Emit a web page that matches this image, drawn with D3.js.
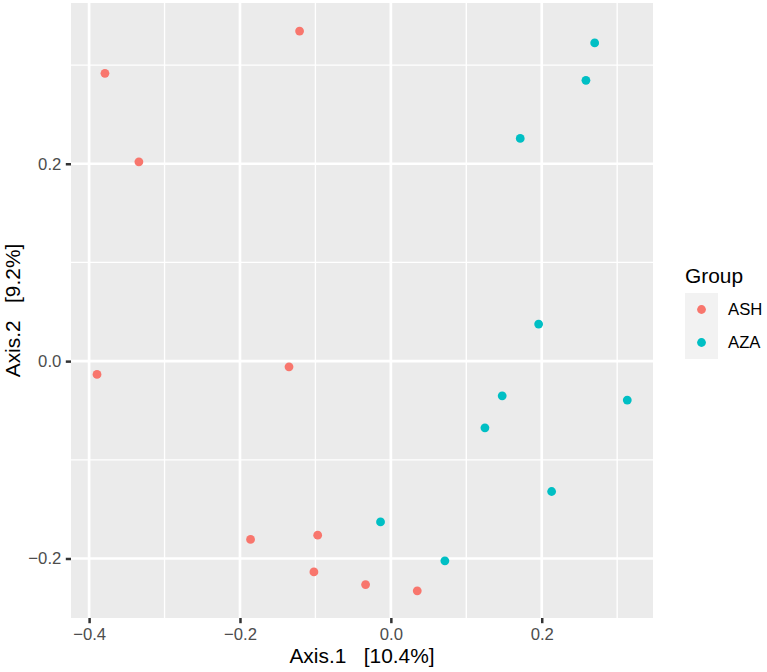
<!DOCTYPE html>
<html>
<head>
<meta charset="utf-8">
<script src="https://cdn.jsdelivr.net/npm/d3@7"></script>
<style>
  html, body { margin: 0; padding: 0; background: #fff; }
  svg { display: block; font-family: "Liberation Sans", Arial, Helvetica, sans-serif; }
  .title { white-space: pre; }
</style>
</head>
<body>
<svg id="chart" width="767" height="672"></svg>
<script>
// ---- data ----
const groups = ["ASH", "AZA"];
const groupColors = ["#F8766D", "#00BFC4"];
const ashAxis1 = [-0.121, -0.379, -0.334, -0.3895, -0.135, -0.186, -0.097, -0.102, -0.0335, 0.035];
const ashAxis2 = [0.3345, 0.2916, 0.202, -0.0135, -0.0058, -0.1807, -0.1764, -0.2136, -0.2264, -0.2328];
const azaAxis1 = [0.2702, 0.2586, 0.1715, 0.1959, 0.1476, 0.3134, 0.1247, 0.2131, -0.0137, 0.0716];
const azaAxis2 = [0.3224, 0.2845, 0.2257, 0.0375, -0.0352, -0.0395, -0.0676, -0.1321, -0.1629, -0.2024];
const xTicks = [-0.4, -0.2, 0.0, 0.2];
const xMinor = [-0.3, -0.1, 0.1, 0.3];
const yTicks = [-0.2, 0.0, 0.2];
const yMinor = [-0.1, 0.1, 0.3];
const xLabel = "Axis.1   [10.4%]";
const yLabel = "Axis.2   [9.2%]";
const legendTitle = "Group";

const points = [];
ashAxis1.forEach((v, i) => points.push({ g: "ASH", x: v, y: ashAxis2[i] }));
azaAxis1.forEach((v, i) => points.push({ g: "AZA", x: v, y: azaAxis2[i] }));

// ---- layout ----
const svg = d3.select("#chart");
const panel = { left: 71, right: 653, top: 3, bottom: 618 };

const x = d3.scaleLinear().domain([-0.424, 0.3475]).range([panel.left, panel.right]);
const y = d3.scaleLinear().domain([-0.2603, 0.3629]).range([panel.bottom, panel.top]);
const color = d3.scaleOrdinal().domain(groups).range(groupColors);
const fmt = d3.format(".1f");

// panel background
svg.append("rect")
  .attr("x", panel.left).attr("y", panel.top)
  .attr("width", panel.right - panel.left).attr("height", panel.bottom - panel.top)
  .attr("fill", "#EBEBEB");

const grid = svg.append("g");
// minor grid
grid.selectAll(".xminor").data(xMinor).join("line")
  .attr("class", "xminor")
  .attr("x1", d => x(d)).attr("x2", d => x(d))
  .attr("y1", panel.top).attr("y2", panel.bottom)
  .attr("stroke", "#fff").attr("stroke-width", 1.35);
grid.selectAll(".yminor").data(yMinor).join("line")
  .attr("class", "yminor")
  .attr("y1", d => y(d)).attr("y2", d => y(d))
  .attr("x1", panel.left).attr("x2", panel.right)
  .attr("stroke", "#fff").attr("stroke-width", 1.35);
// major grid
grid.selectAll(".xmajor").data(xTicks).join("line")
  .attr("class", "xmajor")
  .attr("x1", d => x(d)).attr("x2", d => x(d))
  .attr("y1", panel.top).attr("y2", panel.bottom)
  .attr("stroke", "#fff").attr("stroke-width", 2.7);
grid.selectAll(".ymajor").data(yTicks).join("line")
  .attr("class", "ymajor")
  .attr("y1", d => y(d)).attr("y2", d => y(d))
  .attr("x1", panel.left).attr("x2", panel.right)
  .attr("stroke", "#fff").attr("stroke-width", 2.7);

// points
svg.append("g").selectAll("circle").data(points).join("circle")
  .attr("cx", d => x(d.x)).attr("cy", d => y(d.y))
  .attr("r", 4.4)
  .attr("fill", d => color(d.g));

// axes
const xAxis = svg.append("g")
  .attr("transform", `translate(0,${panel.bottom})`)
  .call(d3.axisBottom(x).tickValues(xTicks).tickFormat(fmt).tickSize(5.2).tickPadding(5));
const yAxis = svg.append("g")
  .attr("transform", `translate(${panel.left},0)`)
  .call(d3.axisLeft(y).tickValues(yTicks).tickFormat(fmt).tickSize(5.2).tickPadding(4.5));
[xAxis, yAxis].forEach(a => {
  a.select(".domain").remove();
  a.selectAll(".tick line").attr("stroke", "#333333").attr("stroke-width", 2.5);
  a.selectAll(".tick text").attr("fill", "#4D4D4D")
    .style("font-size", "16.7px")
    .style("font-family", "'Liberation Sans', Arial, Helvetica, sans-serif");
});

// axis titles
svg.append("text")
  .attr("class", "title")
  .attr("xml:space", "preserve")
  .attr("x", (panel.left + panel.right) / 2).attr("y", 663)
  .attr("text-anchor", "middle")
  .style("font-size", "20.9px").attr("fill", "#000")
  .text(xLabel);
svg.append("text")
  .attr("class", "title")
  .attr("xml:space", "preserve")
  .attr("transform", `translate(20,${(panel.top + panel.bottom) / 2}) rotate(-90)`)
  .attr("text-anchor", "middle")
  .style("font-size", "20.9px").attr("fill", "#000")
  .text(yLabel);

// legend
const lg = svg.append("g").attr("transform", "translate(685,293)");
lg.append("text").attr("x", 0).attr("y", -10)
  .style("font-size", "20.9px").attr("fill", "#000")
  .text(legendTitle);
const keyH = 33, keyW = 33;
const items = lg.selectAll(".key").data(groups).join("g")
  .attr("transform", (d, i) => `translate(0,${i * keyH})`);
items.append("rect").attr("width", keyW).attr("height", keyH).attr("fill", "#F2F2F2");
items.append("circle").attr("cx", keyW / 2).attr("cy", keyH / 2).attr("r", 4.4)
  .attr("fill", d => color(d));
items.append("text").attr("x", 43).attr("y", keyH / 2).attr("dy", "0.35em")
  .style("font-size", "16.7px").attr("fill", "#000")
  .text(d => d);
</script>
</body>
</html>
